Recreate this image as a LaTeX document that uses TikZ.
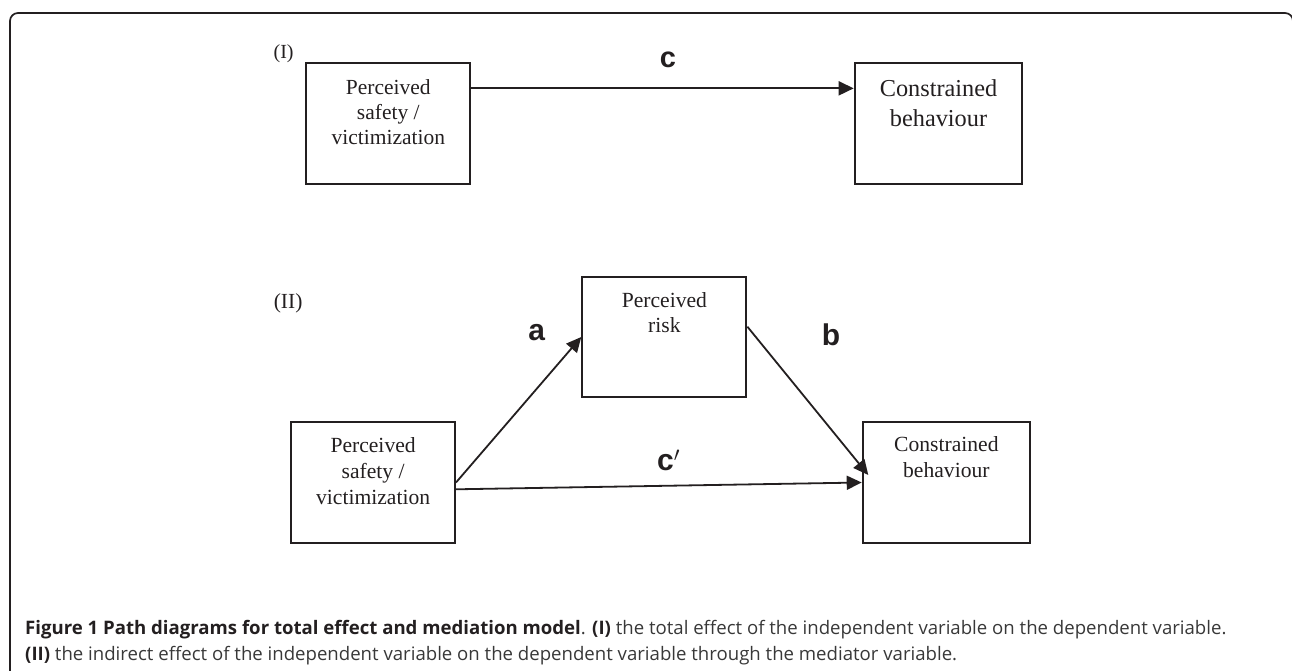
\documentclass[tikz,border=0pt]{standalone}
\usepackage{fontspec}
\setmainfont{Liberation Serif}
\newfontfamily\lblfont{Liberation Sans}
\newfontfamily\capfont{Open Sans}
\usetikzlibrary{arrows.meta,positioning}
\definecolor{ink}{HTML}{231F20}

\begin{document}
\begin{tikzpicture}
[x=1bp,y=-1bp,
 varbox/.style={draw=ink,line width=2bp,inner sep=0pt,minimum height=120.5bp},
 vartext/.style={anchor=north,align=center,inner sep=0pt,text=ink},
 effect/.style={draw=ink,line width=1.8bp,-{Triangle[length=15bp,width=14bp]}},
 coef/.style={anchor=base,inner sep=0pt,text=ink,font=\lblfont\bfseries\fontsize{30bp}{32bp}\selectfont},
 panel/.style={inner sep=0pt,text=ink},
 caption/.style={anchor=base west,inner sep=0pt,text=black!78,font=\capfont\fontsize{18.6bp}{22bp}\selectfont}]
\useasboundingbox (0,0) rectangle (1292,671);
\draw[ink,line width=1.7bp,rounded corners=8bp] (10,671) -- (10,13) -- (1293,13) -- (1293,671);

\node[panel,font=\fontsize{20bp}{24bp}\selectfont] (p1) at (283.6,54) {(I)};
\node[varbox,minimum width=163.8bp] (X1) at (388.3,123.65) {};
\node[varbox,minimum width=167.6bp] (Y1) at (938.5,123.65) {};
\node[vartext,font=\fontsize{21.5bp}{25bp}\selectfont] (X1t) at ([yshift=-16.5bp]X1.north) {Perceived\\safety /\\victimization};
\node[vartext,font=\fontsize{24.3bp}{30bp}\selectfont] (Y1t) at ([yshift=-17bp]Y1.north) {Constrained\\behaviour};
\draw[effect] ([yshift=35.3bp]X1.east) -- ([yshift=35.3bp]Y1.west);
\node[coef,font=\lblfont\bfseries\fontsize{29bp}{30bp}\selectfont] (c) at (668,67.7) {c};

\node[panel,font=\fontsize{21.5bp}{24bp}\selectfont] (p2) at (288.1,303) {(II)};
\node[varbox,minimum width=164.1bp] (M) at (664.35,337) {};
\node[varbox,minimum width=163.8bp] (X2) at (373.1,482.5) {};
\node[varbox,minimum width=167.3bp] (Y2) at (946.35,482.5) {};
\node[vartext,font=\fontsize{21.6bp}{25bp}\selectfont] (Mt) at ([yshift=-16.5bp]M.north) {Perceived\\risk};
\node[vartext,font=\fontsize{21.6bp}{25.8bp}\selectfont] (X2t) at ([yshift=-16bp]X2.north) {Perceived\\safety /\\victimization};
\node[vartext,font=\fontsize{21.6bp}{26bp}\selectfont] (Y2t) at ([yshift=-15.5bp]Y2.north) {Constrained\\behaviour};
\draw[effect] (X2.east) -- (M.west);
\draw[effect] ([yshift=10.3bp]M.east) -- ([xshift=6.6bp,yshift=7.5bp]Y2.west);
\draw[effect] ([yshift=-6.8bp]X2.east) -- (Y2.west);
\node[coef] (a) at (536.7,340) {a};
\node[coef] (b) at (831,345) {b};
\node[coef,anchor=base west] (cp) at (657,470.7) {c$^{\prime}$};

\node[caption] (cap1) at (25,634.3) {{\color{ink}\bfseries Figure 1 Path diagrams for total effect and mediation model}. {\color{ink}\bfseries (I)} the total effect of the independent variable on the dependent variable.};
\node[caption] (cap2) at (25,660.3) {{\color{ink}\bfseries (II)} the indirect effect of the independent variable on the dependent variable through the mediator variable.};
\end{tikzpicture}
\end{document}
